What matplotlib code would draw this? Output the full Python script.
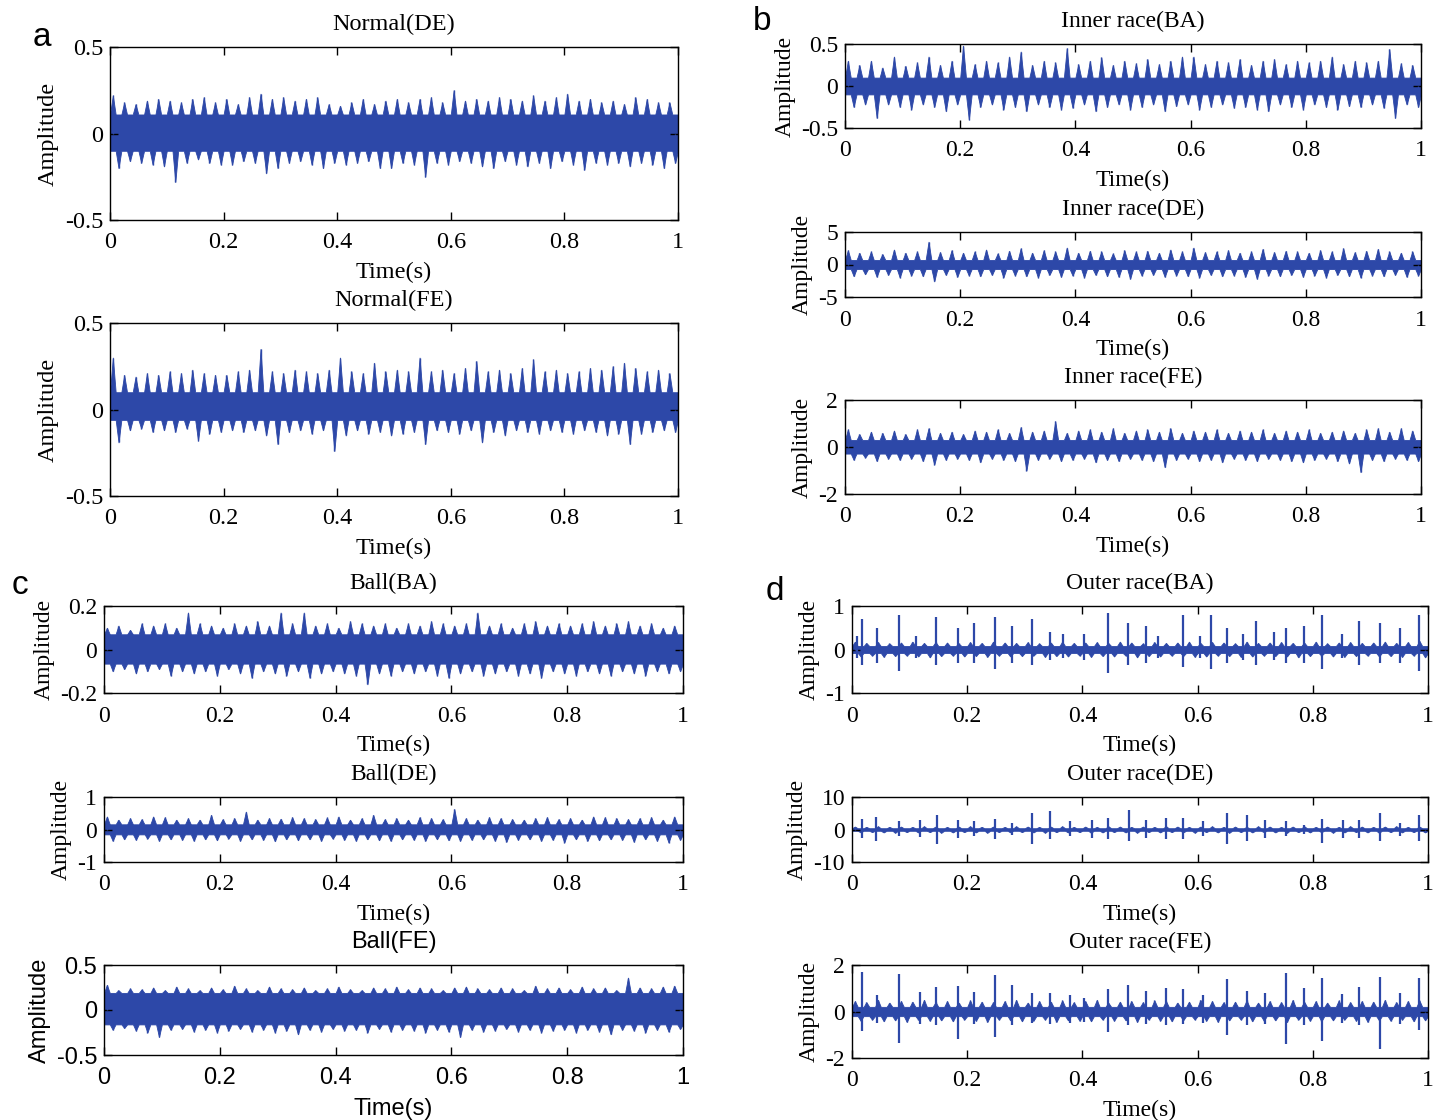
import numpy as np
import matplotlib
matplotlib.use("Agg")
import matplotlib.pyplot as plt

plt.rcParams['axes.unicode_minus'] = False

W, H = 1445, 1120
BLUE = '#2D48A8'

# ---- data ----
# per panel: upper / lower peak per 0.02 s bin, dense band, optional impulses
x_ticks = [0, 0.2, 0.4, 0.6, 0.8, 1]
x_labels = ['0', '0.2', '0.4', '0.6', '0.8', '1']

normal_de_up = [0.22, 0.18, 0.17, 0.19, 0.20, 0.19, 0.18, 0.20, 0.21, 0.18,
                0.20, 0.17, 0.21, 0.23, 0.20, 0.21, 0.19, 0.20, 0.21, 0.17,
                0.16, 0.18, 0.20, 0.17, 0.19, 0.20, 0.18, 0.20, 0.21, 0.18,
                0.25, 0.19, 0.20, 0.19, 0.21, 0.20, 0.19, 0.22, 0.19, 0.21,
                0.23, 0.19, 0.20, 0.18, 0.19, 0.17, 0.21, 0.20, 0.18, 0.18]
normal_de_lo = [-0.20, -0.16, -0.17, -0.18, -0.19, -0.28, -0.17, -0.15, -0.17, -0.18,
                -0.18, -0.16, -0.17, -0.23, -0.20, -0.17, -0.16, -0.18, -0.20, -0.17,
                -0.18, -0.17, -0.16, -0.20, -0.20, -0.17, -0.18, -0.25, -0.17, -0.18,
                -0.16, -0.17, -0.19, -0.20, -0.16, -0.18, -0.19, -0.17, -0.20, -0.16,
                -0.18, -0.21, -0.17, -0.18, -0.17, -0.19, -0.17, -0.18, -0.20, -0.17]
normal_de_band = (-0.10, 0.11)

normal_fe_up = [0.30, 0.20, 0.19, 0.21, 0.20, 0.22, 0.21, 0.23, 0.21, 0.20,
                0.20, 0.22, 0.23, 0.35, 0.22, 0.21, 0.23, 0.22, 0.21, 0.23,
                0.30, 0.22, 0.21, 0.27, 0.22, 0.23, 0.22, 0.30, 0.22, 0.23,
                0.21, 0.24, 0.28, 0.22, 0.23, 0.21, 0.24, 0.29, 0.22, 0.23,
                0.21, 0.22, 0.24, 0.23, 0.25, 0.27, 0.24, 0.22, 0.23, 0.21]
normal_fe_lo = [-0.19, -0.12, -0.11, -0.13, -0.12, -0.13, -0.11, -0.18, -0.14, -0.13,
                -0.12, -0.13, -0.12, -0.15, -0.20, -0.13, -0.12, -0.14, -0.12, -0.24,
                -0.15, -0.12, -0.14, -0.13, -0.15, -0.14, -0.13, -0.20, -0.12, -0.13,
                -0.14, -0.12, -0.19, -0.13, -0.15, -0.12, -0.13, -0.14, -0.12, -0.13,
                -0.14, -0.12, -0.13, -0.15, -0.14, -0.20, -0.14, -0.13, -0.12, -0.13]
normal_fe_band = (-0.06, 0.10)

inner_ba_up = [0.30, 0.25, 0.30, 0.22, 0.35, 0.24, 0.28, 0.35, 0.25, 0.30,
               0.48, 0.26, 0.30, 0.28, 0.35, 0.41, 0.25, 0.30, 0.28, 0.45,
               0.26, 0.30, 0.34, 0.25, 0.30, 0.27, 0.32, 0.26, 0.30, 0.35,
               0.35, 0.26, 0.30, 0.28, 0.32, 0.25, 0.30, 0.32, 0.26, 0.30,
               0.28, 0.30, 0.35, 0.26, 0.30, 0.28, 0.30, 0.44, 0.27, 0.25]
inner_ba_lo = [-0.25, -0.22, -0.38, -0.22, -0.25, -0.28, -0.22, -0.25, -0.30, -0.22,
               -0.40, -0.25, -0.22, -0.28, -0.25, -0.30, -0.22, -0.25, -0.28, -0.26,
               -0.22, -0.30, -0.25, -0.22, -0.28, -0.25, -0.22, -0.30, -0.24, -0.22,
               -0.28, -0.25, -0.22, -0.26, -0.25, -0.28, -0.30, -0.22, -0.25, -0.28,
               -0.22, -0.25, -0.28, -0.24, -0.25, -0.22, -0.26, -0.38, -0.22, -0.25]
inner_ba_band = (-0.10, 0.10)

inner_de_up = [2.2, 1.8, 2.0, 1.6, 2.3, 1.8, 2.0, 3.5, 1.9, 2.2,
               1.8, 2.0, 2.3, 1.7, 2.1, 2.5, 1.8, 2.2, 2.0, 2.6,
               1.8, 2.1, 2.0, 1.7, 2.2, 2.0, 2.1, 1.8, 2.3, 2.0,
               2.6, 1.9, 2.0, 2.2, 1.8, 2.0, 2.4, 1.9, 2.1, 2.0,
               1.8, 2.2, 2.0, 2.5, 1.9, 2.1, 2.4, 2.0, 1.8, 2.0]
inner_de_lo = [-1.8, -1.5, -1.9, -1.6, -2.0, -1.7, -1.8, -2.6, -1.6, -1.9,
               -1.7, -1.8, -1.6, -2.0, -1.7, -1.8, -2.0, -1.6, -1.9, -1.7,
               -2.0, -1.6, -1.8, -1.9, -2.2, -1.7, -1.6, -1.9, -1.7, -1.8,
               -2.0, -1.6, -1.8, -1.7, -1.9, -2.2, -1.7, -1.8, -1.6, -1.9,
               -1.7, -2.0, -1.6, -1.8, -2.0, -1.7, -1.8, -1.6, -1.9, -1.7]
inner_de_band = (-0.7, 0.7)

inner_fe_up = [0.75, 0.55, 0.65, 0.60, 0.70, 0.55, 0.75, 0.80, 0.60, 0.65,
               0.55, 0.70, 0.65, 0.75, 0.60, 0.85, 0.65, 0.70, 1.10, 0.60,
               0.70, 0.75, 0.65, 0.80, 0.60, 0.70, 0.75, 0.65, 0.80, 0.60,
               0.70, 0.65, 0.75, 0.60, 0.70, 0.65, 0.75, 0.60, 0.70, 0.65,
               0.75, 0.60, 0.65, 0.70, 0.60, 0.75, 0.80, 0.65, 0.80, 0.70]
inner_fe_lo = [-0.55, -0.45, -0.60, -0.50, -0.55, -0.50, -0.60, -0.75, -0.55, -0.50,
               -0.55, -0.65, -0.50, -0.55, -0.60, -1.00, -0.55, -0.50, -0.60, -0.55,
               -0.50, -0.65, -0.55, -0.60, -0.50, -0.55, -0.60, -0.86, -0.55, -0.50,
               -0.60, -0.55, -0.65, -0.50, -0.55, -0.60, -0.50, -0.55, -0.60, -0.65,
               -0.55, -0.50, -0.60, -0.70, -1.07, -0.55, -0.60, -0.50, -0.55, -0.60]
inner_fe_band = (-0.28, 0.30)

ball_ba_up = [0.10, 0.11, 0.09, 0.12, 0.11, 0.12, 0.10, 0.17, 0.12, 0.11,
              0.10, 0.12, 0.11, 0.13, 0.11, 0.17, 0.12, 0.17, 0.11, 0.12,
              0.10, 0.13, 0.12, 0.11, 0.12, 0.10, 0.12, 0.11, 0.13, 0.12,
              0.11, 0.12, 0.17, 0.11, 0.12, 0.10, 0.12, 0.13, 0.11, 0.12,
              0.11, 0.12, 0.13, 0.11, 0.12, 0.13, 0.11, 0.12, 0.10, 0.11]
ball_ba_lo = [-0.10, -0.09, -0.11, -0.10, -0.09, -0.12, -0.10, -0.11, -0.10, -0.12,
              -0.09, -0.11, -0.13, -0.10, -0.11, -0.12, -0.10, -0.13, -0.11, -0.10,
              -0.11, -0.12, -0.16, -0.11, -0.12, -0.10, -0.11, -0.10, -0.12, -0.13,
              -0.11, -0.10, -0.12, -0.11, -0.10, -0.12, -0.11, -0.13, -0.10, -0.11,
              -0.12, -0.10, -0.11, -0.12, -0.10, -0.11, -0.12, -0.10, -0.11, -0.10]
ball_ba_band = (-0.065, 0.07)

ball_de_up = [0.40, 0.30, 0.35, 0.32, 0.40, 0.38, 0.30, 0.35, 0.30, 0.45,
              0.32, 0.35, 0.55, 0.30, 0.35, 0.33, 0.38, 0.35, 0.32, 0.37,
              0.40, 0.30, 0.35, 0.45, 0.32, 0.35, 0.30, 0.38, 0.35, 0.32,
              0.63, 0.35, 0.30, 0.38, 0.35, 0.32, 0.30, 0.35, 0.38, 0.32,
              0.35, 0.30, 0.40, 0.38, 0.35, 0.32, 0.35, 0.38, 0.30, 0.40]
ball_de_lo = [-0.35, -0.30, -0.32, -0.28, -0.35, -0.30, -0.32, -0.35, -0.30, -0.33,
              -0.28, -0.35, -0.30, -0.32, -0.36, -0.30, -0.33, -0.30, -0.35, -0.28,
              -0.32, -0.35, -0.30, -0.33, -0.35, -0.30, -0.32, -0.35, -0.30, -0.33,
              -0.35, -0.32, -0.30, -0.35, -0.38, -0.32, -0.30, -0.35, -0.32, -0.40,
              -0.30, -0.35, -0.33, -0.30, -0.32, -0.38, -0.30, -0.35, -0.40, -0.32]
ball_de_band = (-0.15, 0.16)

ball_fe_up = [0.28, 0.22, 0.24, 0.23, 0.25, 0.22, 0.26, 0.24, 0.22, 0.25,
              0.23, 0.27, 0.24, 0.22, 0.26, 0.24, 0.23, 0.25, 0.22, 0.24,
              0.26, 0.23, 0.22, 0.25, 0.24, 0.26, 0.23, 0.25, 0.24, 0.22,
              0.25, 0.26, 0.24, 0.23, 0.25, 0.24, 0.22, 0.27, 0.24, 0.25,
              0.23, 0.26, 0.24, 0.25, 0.22, 0.36, 0.25, 0.24, 0.26, 0.27]
ball_fe_lo = [-0.22, -0.20, -0.23, -0.25, -0.30, -0.22, -0.21, -0.24, -0.22, -0.25,
              -0.23, -0.21, -0.24, -0.22, -0.25, -0.23, -0.27, -0.22, -0.24, -0.21,
              -0.23, -0.22, -0.25, -0.21, -0.24, -0.22, -0.23, -0.25, -0.22, -0.24,
              -0.30, -0.22, -0.24, -0.23, -0.21, -0.24, -0.22, -0.25, -0.23, -0.22,
              -0.25, -0.22, -0.24, -0.27, -0.22, -0.23, -0.25, -0.22, -0.24, -0.21]
ball_fe_band = (-0.16, 0.19)

outer_ba_up = [0.18, 0.15, 0.17, 0.14, 0.16, 0.18, 0.15, 0.17, 0.16, 0.14,
               0.17, 0.15, 0.18, 0.16, 0.15, 0.17, 0.14, 0.16, 0.18, 0.15,
               0.16, 0.17, 0.15, 0.18, 0.16, 0.14, 0.17, 0.15, 0.16, 0.18,
               0.15, 0.17, 0.16, 0.14, 0.18, 0.15, 0.16, 0.17, 0.15, 0.16,
               0.18, 0.14, 0.16, 0.17, 0.15, 0.16, 0.18, 0.15, 0.17, 0.20]
outer_ba_lo = [-0.16, -0.14, -0.17, -0.15, -0.14, -0.16, -0.18, -0.15, -0.14, -0.16,
               -0.15, -0.17, -0.14, -0.16, -0.15, -0.14, -0.17, -0.15, -0.16, -0.14,
               -0.17, -0.15, -0.16, -0.14, -0.18, -0.15, -0.16, -0.14, -0.15, -0.17,
               -0.16, -0.14, -0.15, -0.17, -0.16, -0.14, -0.15, -0.16, -0.18, -0.15,
               -0.14, -0.16, -0.17, -0.15, -0.14, -0.16, -0.15, -0.17, -0.14, -0.18]
outer_ba_band = (-0.08, 0.08)
outer_ba_t = [0.008, 0.017, 0.044, 0.081, 0.111, 0.146, 0.184, 0.212, 0.249, 0.278,
              0.313, 0.344, 0.367, 0.402, 0.444, 0.480, 0.511, 0.532, 0.574, 0.605,
              0.624, 0.651, 0.679, 0.702, 0.733, 0.753, 0.784, 0.816, 0.850, 0.881,
              0.916, 0.951, 0.984]
outer_ba_hi = [0.3, 0.7, 0.5, 0.8, 0.3, 0.75, 0.5, 0.6, 0.75, 0.55,
               0.7, 0.4, 0.35, 0.35, 0.85, 0.6, 0.55, 0.3, 0.8, 0.3,
               0.8, 0.5, 0.35, 0.65, 0.4, 0.5, 0.55, 0.8, 0.35, 0.65,
               0.6, 0.5, 0.8]
outer_ba_low = [-0.2, -0.35, -0.3, -0.5, -0.2, -0.35, -0.3, -0.3, -0.45, -0.3,
                -0.35, -0.25, -0.2, -0.25, -0.55, -0.35, -0.3, -0.2, -0.4, -0.2,
                -0.45, -0.3, -0.25, -0.35, -0.25, -0.3, -0.3, -0.45, -0.2, -0.35,
                -0.3, -0.3, -0.5]

outer_de_up = [0.9, 0.8, 1.0, 0.8, 0.9, 0.8, 1.0, 0.9, 0.8, 0.9,
               1.0, 0.8, 0.9, 0.8, 1.0, 0.9, 0.8, 0.9, 1.0, 0.8,
               0.9, 0.8, 1.0, 0.9, 0.8, 0.9, 0.8, 1.0, 0.9, 0.8,
               0.9, 1.0, 0.8, 0.9, 0.8, 1.0, 0.9, 0.8, 0.9, 1.0,
               0.8, 0.9, 0.8, 1.0, 0.9, 0.8, 0.9, 1.0, 0.8, 0.9]
outer_de_lo = [-0.9, -0.8, -0.9, -1.0, -0.8, -0.9, -0.8, -1.0, -0.9, -0.8,
               -0.9, -1.0, -0.8, -0.9, -0.8, -0.9, -1.0, -0.8, -0.9, -0.8,
               -1.0, -0.9, -0.8, -0.9, -1.0, -0.8, -0.9, -0.8, -0.9, -1.0,
               -0.8, -0.9, -1.0, -0.8, -0.9, -0.8, -0.9, -1.0, -0.8, -0.9,
               -0.8, -1.0, -0.9, -0.8, -0.9, -1.0, -0.8, -0.9, -0.8, -0.9]
outer_de_band = (-0.4, 0.4)
outer_de_t = [0.017, 0.042, 0.081, 0.118, 0.147, 0.184, 0.212, 0.249, 0.278, 0.313,
              0.344, 0.379, 0.416, 0.444, 0.481, 0.511, 0.546, 0.574, 0.609, 0.651,
              0.685, 0.717, 0.753, 0.784, 0.816, 0.853, 0.881, 0.916, 0.951, 0.984]
outer_de_hi = [3.3, 3.8, 2.5, 2.8, 4.5, 3.0, 2.5, 3.2, 2.0, 5.0,
               5.7, 2.5, 3.0, 3.5, 6.0, 3.0, 3.5, 3.5, 2.5, 5.0,
               4.5, 3.0, 2.5, 1.5, 3.3, 3.0, 3.0, 5.0, 2.0, 4.5]
outer_de_low = [-2.5, -3.5, -2.0, -2.2, -4.5, -2.5, -2.0, -3.0, -1.8, -4.5,
                -3.0, -2.0, -2.5, -3.0, -3.5, -2.5, -3.0, -3.0, -2.0, -4.5,
                -3.5, -2.5, -2.0, -1.5, -4.0, -2.5, -2.5, -3.5, -2.0, -3.5]

outer_fe_up = [0.45, 0.40, 0.50, 0.38, 0.45, 0.42, 0.50, 0.40, 0.45, 0.38,
               0.48, 0.42, 0.40, 0.45, 0.50, 0.38, 0.45, 0.42, 0.48, 0.40,
               0.45, 0.50, 0.38, 0.42, 0.45, 0.40, 0.48, 0.45, 0.38, 0.42,
               0.50, 0.45, 0.40, 0.42, 0.48, 0.38, 0.45, 0.40, 0.50, 0.42,
               0.45, 0.38, 0.48, 0.40, 0.45, 0.42, 0.50, 0.40, 0.45, 0.48]
outer_fe_lo = [-0.40, -0.35, -0.42, -0.38, -0.45, -0.35, -0.40, -0.38, -0.42, -0.35,
               -0.40, -0.45, -0.35, -0.38, -0.42, -0.40, -0.35, -0.45, -0.38, -0.40,
               -0.42, -0.35, -0.40, -0.38, -0.45, -0.35, -0.40, -0.42, -0.38, -0.35,
               -0.40, -0.45, -0.38, -0.35, -0.42, -0.40, -0.38, -0.45, -0.35, -0.40,
               -0.42, -0.38, -0.35, -0.40, -0.45, -0.38, -0.40, -0.35, -0.42, -0.38]
outer_fe_band = (-0.2, 0.2)
outer_fe_t = [0.017, 0.044, 0.081, 0.118, 0.146, 0.184, 0.212, 0.249, 0.278, 0.313,
              0.344, 0.379, 0.402, 0.444, 0.480, 0.511, 0.546, 0.574, 0.609, 0.651,
              0.686, 0.717, 0.753, 0.784, 0.816, 0.850, 0.881, 0.916, 0.951, 0.984]
outer_fe_hi = [1.7, 0.7, 1.6, 0.85, 1.05, 1.1, 0.85, 1.55, 1.15, 0.8,
               0.8, 0.7, 0.6, 0.95, 1.15, 0.9, 1.0, 0.95, 0.7, 1.4,
               0.9, 0.8, 1.65, 1.0, 1.45, 0.75, 1.05, 1.5, 0.8, 1.45]
outer_fe_low = [-0.85, -0.5, -1.35, -0.55, -0.6, -1.2, -0.55, -1.1, -0.6, -0.5,
                -0.55, -0.5, -0.45, -0.9, -0.6, -0.55, -0.6, -0.55, -0.5, -1.0,
                -0.6, -0.55, -1.4, -0.6, -1.25, -0.5, -0.6, -1.6, -0.55, -0.8]

SERIF = 'Liberation Serif'
SANS = 'Liberation Sans'

fig = plt.figure(figsize=(W / 100, H / 100), dpi=100)


def make_axes(l, t, r, b):
    return fig.add_axes([l / W, 1 - b / H, (r - l) / W, (b - t) / H])


def draw_panel(ax, title, up, lo, band, ylim, yticks, ylabels,
               spikes=None, font=SERIF, fs=17):
    n = len(up)
    # each bin: narrow upward peak in first half, downward peak in second half
    grid = np.arange(4 * n + 1) / (4 * n)
    top = np.full(grid.size, band[1])
    bot = np.full(grid.size, band[0])
    top[1::4] = up
    bot[3::4] = lo
    ax.fill_between(grid, bot, top, color=BLUE, lw=0.6, edgecolor=BLUE)
    ax.vlines(grid[1::4], 0, up, color=BLUE, lw=1.0)
    ax.vlines(grid[3::4], lo, 0, color=BLUE, lw=1.0)
    if spikes is not None:
        st, sh, sl = spikes
        ax.vlines(st, sl, sh, color=BLUE, lw=1.6)
    ax.set_xlim(0, 1)
    ax.set_ylim(*ylim)
    ax.set_xticks(x_ticks)
    ax.set_xticklabels(x_labels, fontfamily=font, fontsize=fs)
    ax.set_yticks(yticks)
    ax.set_yticklabels(ylabels, fontfamily=font, fontsize=fs)
    ax.tick_params(direction='in', top=True, right=True, length=6, width=1)
    ax.tick_params(axis='x', pad=9)
    ax.tick_params(axis='y', pad=5)
    for s in ax.spines.values():
        s.set_linewidth(1.0)
    ax.set_title(title, fontfamily=font, fontsize=fs, pad=12)
    ax.set_xlabel('Time(s)', fontfamily=font, fontsize=fs, labelpad=6)
    ax.set_ylabel('Amplitude', fontfamily=font, fontsize=fs, labelpad=4)


# panel a
ax = make_axes(110, 47, 678, 220)
draw_panel(ax, 'Normal(DE)', normal_de_up, normal_de_lo, normal_de_band,
           (-0.5, 0.5), [-0.5, 0, 0.5], ['-0.5', '0', '0.5'], fs=17.5)
ax = make_axes(110, 323, 678, 496)
draw_panel(ax, 'Normal(FE)', normal_fe_up, normal_fe_lo, normal_fe_band,
           (-0.5, 0.5), [-0.5, 0, 0.5], ['-0.5', '0', '0.5'], fs=17.5)

# panel b
ax = make_axes(845, 44, 1421, 128)
draw_panel(ax, 'Inner race(BA)', inner_ba_up, inner_ba_lo, inner_ba_band,
           (-0.5, 0.5), [-0.5, 0, 0.5], ['-0.5', '0', '0.5'])
ax = make_axes(845, 232, 1421, 297)
draw_panel(ax, 'Inner race(DE)', inner_de_up, inner_de_lo, inner_de_band,
           (-5, 5), [-5, 0, 5], ['-5', '0', '5'])
ax = make_axes(845, 400, 1421, 494)
draw_panel(ax, 'Inner race(FE)', inner_fe_up, inner_fe_lo, inner_fe_band,
           (-2, 2), [-2, 0, 2], ['-2', '0', '2'])

# panel c
ax = make_axes(104, 606, 683, 693)
draw_panel(ax, 'Ball(BA)', ball_ba_up, ball_ba_lo, ball_ba_band,
           (-0.2, 0.2), [-0.2, 0, 0.2], ['-0.2', '0', '0.2'])
ax = make_axes(104, 797, 683, 862)
draw_panel(ax, 'Ball(DE)', ball_de_up, ball_de_lo, ball_de_band,
           (-1, 1), [-1, 0, 1], ['-1', '0', '1'])
ax = make_axes(104, 965, 683, 1055)
draw_panel(ax, 'Ball(FE)', ball_fe_up, ball_fe_lo, ball_fe_band,
           (-0.5, 0.5), [-0.5, 0, 0.5], ['-0.5', '0', '0.5'], font=SANS, fs=17)

# panel d
ax = make_axes(852, 606, 1428, 693)
draw_panel(ax, 'Outer race(BA)', outer_ba_up, outer_ba_lo, outer_ba_band,
           (-1, 1), [-1, 0, 1], ['-1', '0', '1'],
           spikes=(outer_ba_t, outer_ba_hi, outer_ba_low))
ax = make_axes(852, 797, 1428, 862)
draw_panel(ax, 'Outer race(DE)', outer_de_up, outer_de_lo, outer_de_band,
           (-10, 10), [-10, 0, 10], ['-10', '0', '10'],
           spikes=(outer_de_t, outer_de_hi, outer_de_low))
ax = make_axes(852, 965, 1428, 1058)
draw_panel(ax, 'Outer race(FE)', outer_fe_up, outer_fe_lo, outer_fe_band,
           (-2, 2), [-2, 0, 2], ['-2', '0', '2'],
           spikes=(outer_fe_t, outer_fe_hi, outer_fe_low))

# panel letters
for letter, x, y in [('a', 42, 38), ('b', 762, 22), ('c', 20, 585), ('d', 775, 592)]:
    fig.text(x / W, 1 - y / H, letter, fontfamily=SANS, fontsize=24,
             ha='center', va='center')

fig.savefig('out.png', dpi=100)
